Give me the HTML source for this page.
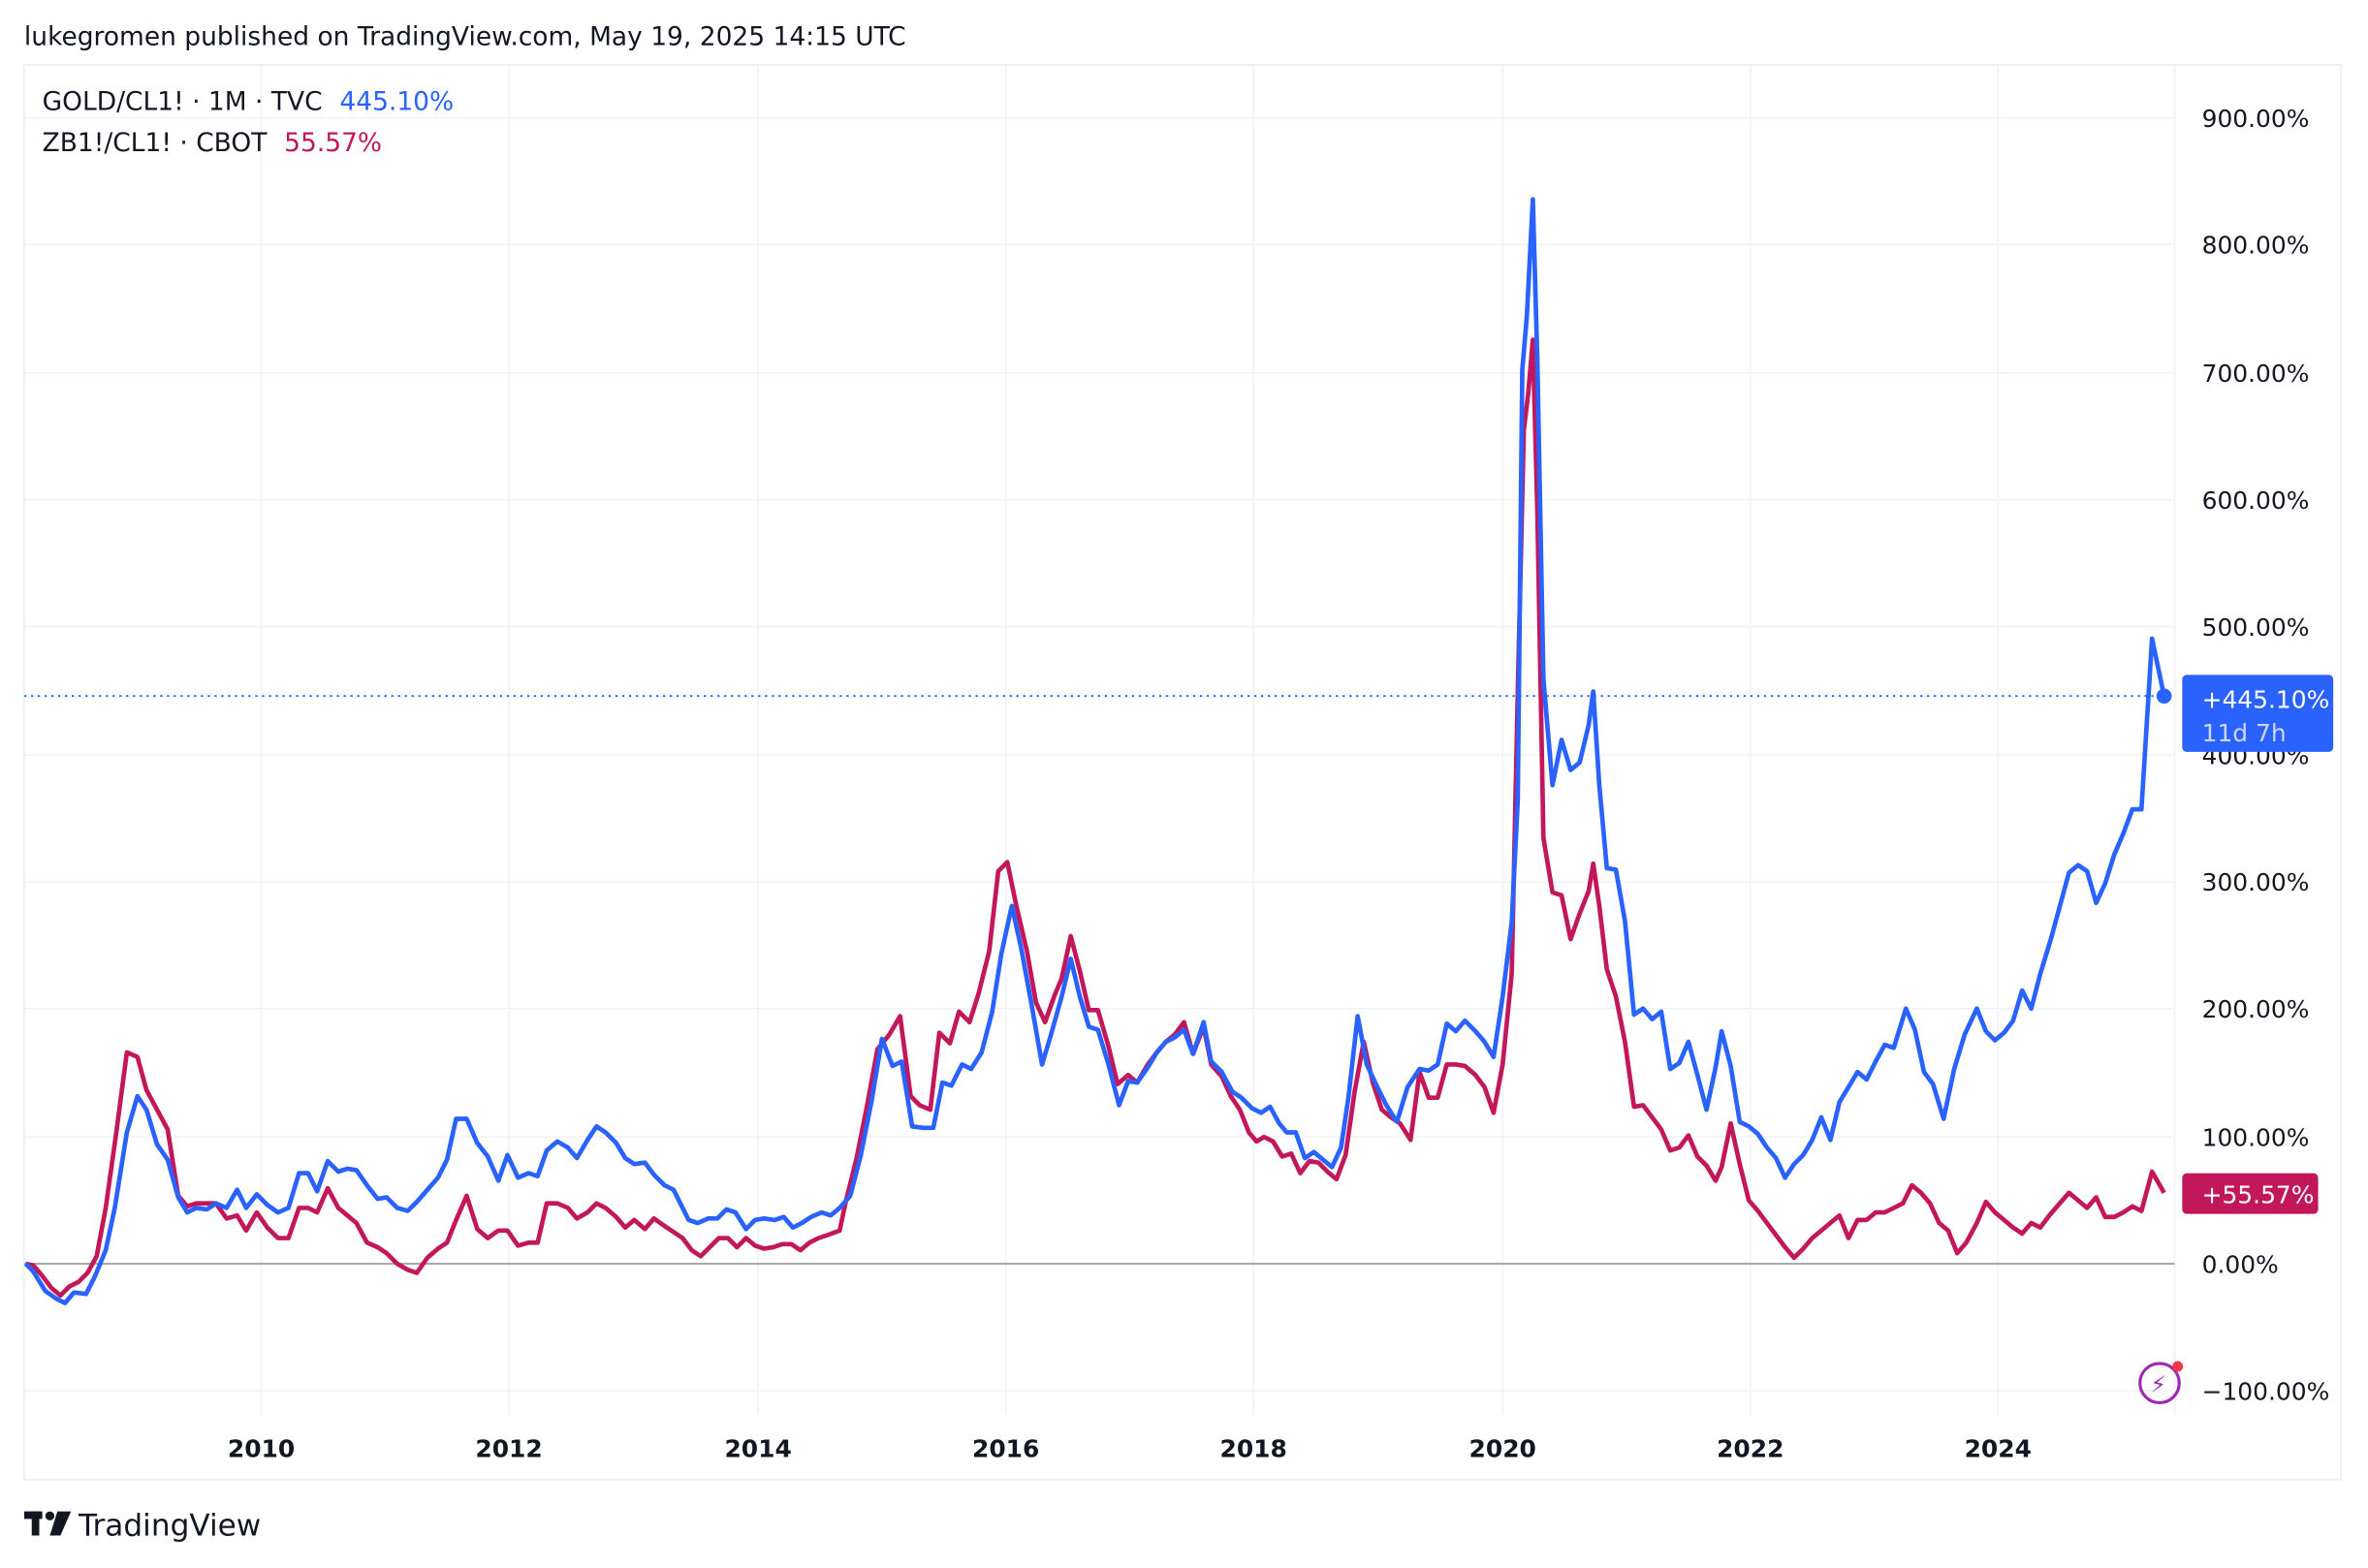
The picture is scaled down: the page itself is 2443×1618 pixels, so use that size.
<!DOCTYPE html>
<html><head><meta charset="utf-8"><style>
html,body{margin:0;padding:0;background:#fff;}
svg{display:block;}
text{font-family:"DejaVu Sans","Liberation Sans",sans-serif;}
</style></head><body>
<svg width="2443" height="1618" viewBox="0 0 1568 1038.5" xmlns="http://www.w3.org/2000/svg">
<rect x="0" y="0" width="1568" height="1038.5" fill="#fff"/>
<text x="16" y="30" font-size="17" fill="#131722">lukegromen published on TradingView.com, May 19, 2025 14:15 UTC</text>
<rect x="16" y="43" width="1534" height="937" fill="none" stroke="#eef0f3" stroke-width="1.2"/>
<line x1="1440" y1="43" x2="1440" y2="937" stroke="#f0f1f4" stroke-width="1"/>
<g stroke="#f0f3f7" stroke-width="1">
<line x1="16" y1="78" x2="1440" y2="78"/><line x1="16" y1="162" x2="1440" y2="162"/>
<line x1="16" y1="247" x2="1440" y2="247"/><line x1="16" y1="331" x2="1440" y2="331"/>
<line x1="16" y1="415" x2="1440" y2="415"/><line x1="16" y1="500" x2="1440" y2="500"/>
<line x1="16" y1="584" x2="1440" y2="584"/><line x1="16" y1="668" x2="1440" y2="668"/>
<line x1="16" y1="753" x2="1440" y2="753"/><line x1="16" y1="921" x2="1440" y2="921"/>
<line x1="173" y1="43" x2="173" y2="937"/><line x1="337" y1="43" x2="337" y2="937"/>
<line x1="502" y1="43" x2="502" y2="937"/><line x1="666" y1="43" x2="666" y2="937"/>
<line x1="830" y1="43" x2="830" y2="937"/><line x1="995" y1="43" x2="995" y2="937"/>
<line x1="1159" y1="43" x2="1159" y2="937"/><line x1="1323" y1="43" x2="1323" y2="937"/>
</g>
<line x1="16" y1="837" x2="1440" y2="837" stroke="#a8aab0" stroke-width="1.3"/>
<line x1="16" y1="461" x2="1433" y2="461" stroke="#2962ff" stroke-width="1.2" stroke-dasharray="1.5,3"/>
<g font-size="16" fill="#131722">
<text x="1458" y="84">900.00%</text><text x="1458" y="168">800.00%</text>
<text x="1458" y="253">700.00%</text><text x="1458" y="337">600.00%</text>
<text x="1458" y="421">500.00%</text><text x="1458" y="506">400.00%</text>
<text x="1458" y="590">300.00%</text><text x="1458" y="674">200.00%</text>
<text x="1458" y="759">100.00%</text><text x="1458" y="843">0.00%</text>
<text x="1458" y="927">−100.00%</text>
</g>
<g font-size="16" font-weight="bold" fill="#131722" text-anchor="middle">
<text x="173" y="965">2010</text><text x="337" y="965">2012</text><text x="502" y="965">2014</text>
<text x="666" y="965">2016</text><text x="830" y="965">2018</text><text x="995" y="965">2020</text>
<text x="1159" y="965">2022</text><text x="1323" y="965">2024</text>
</g>
<polyline fill="none" stroke="#c2185b" stroke-width="3" stroke-linejoin="round" points="17,837 22,838 28,845 34,853 40,858 46,852 52,849 58,843 64,832 70,800 77,750 84,697 91,700 97,722 104,735 111,748 118,792 124,799 130,797 137,797 143,797 150,807 157,805 163,815 170,803 177,813 184,820 191,820 198,800 204,800 210,803 217,787 224,800 230,805 236,810 243,823 250,826 256,830 263,837 270,841 276,843 283,833 290,827 296,823 302,808 309,792 316,814 323,820 330,815 336,815 343,825 350,823 356,823 362,797 369,797 376,800 382,807 389,803 395,797 401,800 408,806 414,813 420,808 427,814 433,807 440,812 446,816 452,820 458,828 464,832 470,826 476,820 482,820 488,826 494,820 500,825 506,827 512,826 518,824 524,824 530,828 536,823 542,820 548,818 556,815 560,796 567,768 574,733 581,695 589,685 596,673 603,726 609,732 616,735 622,684 629,691 635,670 642,677 648,658 655,630 661,577 667,571 673,600 680,630 686,664 692,677 698,660 703,648 709,620 715,643 721,669 727,669 734,693 740,718 747,712 753,717 760,705 766,697 772,690 778,685 784,677 790,698 797,680 802,705 809,713 815,726 821,735 827,750 832,756 837,753 843,756 849,766 855,764 861,777 867,769 873,770 879,776 885,781 891,765 897,723 903,690 909,717 915,735 921,740 927,744 934,755 940,710 946,727 952,727 958,705 964,705 970,706 977,712 983,720 989,737 995,705 1001,645 1005,460 1009,285 1012,260 1015,225 1018,340 1022,555 1028,591 1034,593 1040,622 1046,605 1052,590 1055,572 1059,600 1064,642 1070,660 1076,690 1082,733 1088,732 1094,740 1100,748 1106,762 1112,760 1118,752 1124,766 1130,772 1136,782 1140,773 1146,744 1152,771 1158,795 1164,802 1170,810 1176,818 1182,826 1188,833 1194,827 1200,820 1206,815 1212,810 1218,805 1224,820 1230,808 1236,808 1242,803 1248,803 1254,800 1260,797 1266,785 1272,790 1278,797 1284,810 1290,815 1296,830 1302,823 1309,810 1315,796 1321,803 1327,808 1333,813 1339,817 1345,810 1351,813 1357,805 1363,798 1370,790 1376,795 1382,800 1388,793 1394,806 1400,806 1406,803 1412,799 1418,802 1425,776 1433,790"/>
<polyline fill="none" stroke="#2962ff" stroke-width="3" stroke-linejoin="round" points="17,837 22,842 30,855 37,860 43,863 49,856 57,857 63,845 70,828 76,800 84,750 91,726 97,735 104,758 111,768 118,793 124,803 130,800 137,801 143,797 150,800 157,788 163,800 170,791 177,798 184,803 191,800 198,777 204,777 210,789 217,769 224,776 230,774 236,775 243,785 250,794 256,793 263,800 270,802 276,796 283,788 290,780 296,768 302,741 309,741 316,757 323,766 330,782 336,765 343,780 350,777 356,779 362,762 369,756 376,760 382,767 389,755 395,746 401,750 408,757 414,767 420,771 427,770 433,778 440,785 446,788 452,800 456,808 462,810 469,807 475,807 481,801 487,803 494,814 500,808 506,807 513,808 519,806 525,813 531,810 537,806 544,803 550,805 556,800 563,792 570,765 577,730 584,688 591,706 597,703 604,746 611,747 618,747 624,717 630,719 637,705 643,708 650,697 657,670 663,632 670,600 676,627 683,665 690,705 696,685 703,660 709,635 715,660 721,680 727,682 734,705 741,732 747,716 753,717 760,707 766,697 772,690 778,687 784,682 790,698 797,677 802,703 809,710 816,723 822,727 829,734 835,737 841,733 847,744 852,750 858,750 864,767 870,763 876,768 882,773 888,760 893,726 899,673 905,705 912,720 918,732 925,743 932,720 940,708 946,709 952,705 958,678 964,683 970,676 977,683 983,690 989,700 995,660 1001,611 1005,530 1008,245 1011,210 1015,132 1018,240 1022,450 1028,520 1034,490 1040,510 1046,505 1052,480 1055,458 1059,520 1064,575 1070,576 1076,610 1082,672 1088,668 1094,675 1100,670 1106,708 1112,704 1118,690 1124,712 1130,735 1136,707 1140,683 1146,706 1152,743 1158,746 1164,751 1170,760 1176,767 1182,780 1188,771 1194,765 1200,755 1206,740 1212,755 1218,730 1224,720 1230,710 1236,715 1242,703 1248,692 1254,694 1262,668 1268,682 1274,710 1280,718 1287,741 1294,708 1301,685 1309,668 1315,683 1321,689 1327,684 1333,676 1339,656 1345,668 1351,645 1358,622 1364,600 1370,578 1376,573 1382,577 1388,598 1394,585 1400,566 1406,552 1412,536 1418,536 1425,423 1433,461"/>
<circle cx="1433" cy="461" r="5" fill="#2962ff"/>
<rect x="1445" y="447" width="100" height="51" rx="3" fill="#2962ff"/>
<text x="1458" y="469" font-size="16" fill="#fff">+445.10%</text>
<text x="1458" y="491" font-size="16" fill="#c9d6ff">11d 7h</text>
<rect x="1445" y="777" width="90" height="27" rx="3" fill="#c2185b"/>
<text x="1458" y="797" font-size="16" fill="#fff">+55.57%</text>
<text x="28" y="73" font-size="17" fill="#131722">GOLD/CL1! · 1M · TVC <tspan fill="#2962ff" dx="6">445.10%</tspan></text>
<text x="28" y="100" font-size="17" fill="#131722">ZB1!/CL1! · CBOT <tspan fill="#c2185b" dx="6">55.57%</tspan></text>
<circle cx="1430" cy="916" r="13" fill="none" stroke="#9c27b0" stroke-width="2"/>
<text x="1424" y="922" font-size="15" fill="#9c27b0">⚡</text>
<circle cx="1442" cy="905" r="3.5" fill="#f23645"/>
<rect x="16" y="1001" width="12" height="5" fill="#131722"/>
<rect x="21" y="1001" width="5" height="16" fill="#131722"/>
<circle cx="33" cy="1004" r="3" fill="#131722"/>
<polygon points="38,1001 47,1001 40,1017 33,1017" fill="#131722"/>
<text x="52" y="1017" font-size="20" fill="#131722">TradingView</text>
</svg>
</body></html>
